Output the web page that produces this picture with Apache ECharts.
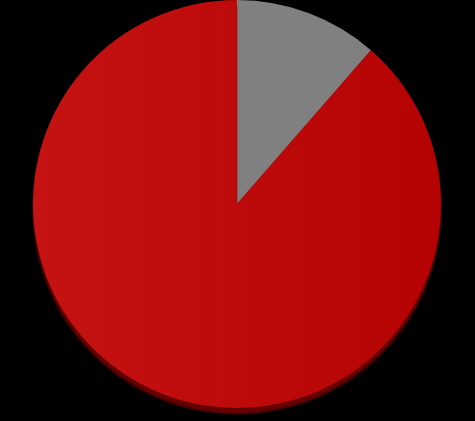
<!DOCTYPE html>
<html>
<head>
<meta charset="utf-8">
<script src="https://cdn.jsdelivr.net/npm/echarts@6/dist/echarts.min.js"></script>
<style>
html,body{margin:0;padding:0;background:#000;}
#chart{width:475px;height:421px;}
</style>
</head>
<body>
<div id="chart"></div>
<script>
const categories = ['Gray', 'Red'];
const values = [11.4, 88.6];
const colors = ['#808080', '#bf0a0a'];

const chart = echarts.init(document.getElementById('chart'));
chart.setOption({
  backgroundColor: '#000000',
  animation: false,
  series: [{
    type: 'pie',
    center: [237, 204],
    radius: [0, 204],
    startAngle: 90,
    clockwise: true,
    label: { show: false },
    labelLine: { show: false },
    emphasis: { disabled: true },
    itemStyle: {
      borderWidth: 0,
      shadowColor: 'rgba(100,0,0,1)',
      shadowBlur: 2,
      shadowOffsetY: 6
    },
    data: categories.map((c, i) => ({
      name: c,
      value: values[i],
      itemStyle: {
        color: i === 1 ? new echarts.graphic.LinearGradient(0, 0, 1, 0, [
          { offset: 0, color: '#c51212' },
          { offset: 1, color: '#b50202' }
        ]) : colors[i]
      }
    }))
  }]
});
</script>
</body>
</html>
